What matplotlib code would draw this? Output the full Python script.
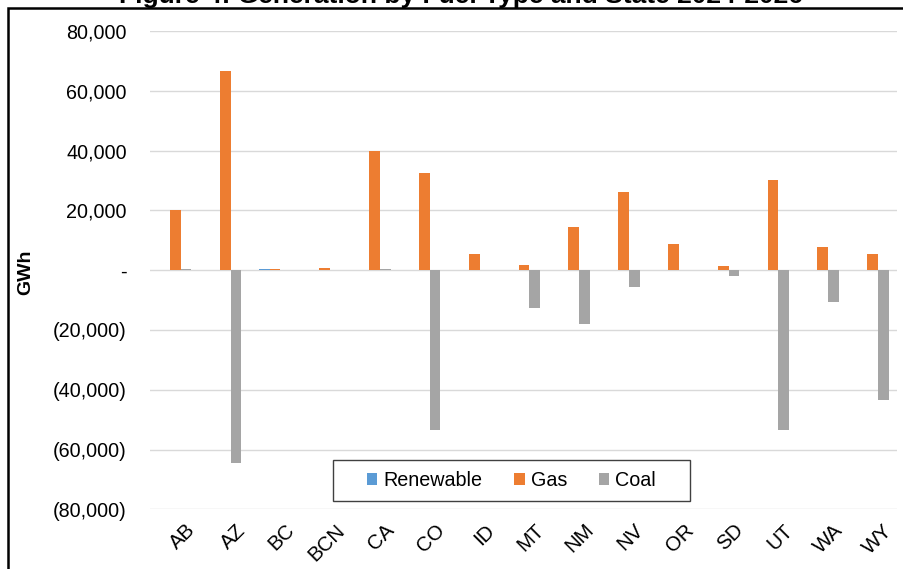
import matplotlib
matplotlib.use("Agg")
import matplotlib.pyplot as plt
import matplotlib.transforms as mtransforms
from matplotlib.patches import Rectangle, Patch
from matplotlib.ticker import FuncFormatter, FixedLocator
import numpy as np

plt.rcParams['font.family'] = ['Liberation Sans', 'DejaVu Sans']

# Change in generation by state and fuel type, 2024-2026 (GWh)
states = ["AB", "AZ", "BC", "BCN", "CA", "CO", "ID", "MT", "NM", "NV",
          "OR", "SD", "UT", "WA", "WY"]
renewable = [0, 0, 500, 0, 0, 0, 0, 0, 0, 0, 0, 0, 0, 0, 0]
gas = [20100, 66500, 500, 800, 39800, 32600, 5500, 1600, 14400, 26100,
       8700, 1300, 30300, 7900, 5500]
coal = [400, -64500, 0, 0, 400, -53600, 0, -12600, -17900, -5800,
        0, -1900, -53600, -10500, -43600]

series_names = ["Renewable", "Gas", "Coal"]
series_colors = ["#5B9BD5", "#ED7D31", "#A5A5A5"]
y_ticks = [-80000, -60000, -40000, -20000, 0, 20000, 40000, 60000, 80000]

W, H, DPI = 904, 569, 100
fig = plt.figure(figsize=(W / DPI, H / DPI), dpi=DPI)

# axes placed in pixel units
ax_l, ax_r, ax_t, ax_b = 150.5, 897.5, 31.0, 509.3
ax = fig.add_axes([ax_l / W, 1 - ax_b / H, (ax_r - ax_l) / W, (ax_b - ax_t) / H])

x = np.arange(len(states))
bw = 0.215
for i, (vals, name, col) in enumerate(zip([renewable, gas, coal], series_names, series_colors)):
    ax.bar(x + (i - 1) * bw, vals, width=bw, color=col, linewidth=0,
           label=name, zorder=3)

ax.set_xlim(-0.5, len(states) - 0.5)
ax.set_ylim(-80000, 80000)
ax.yaxis.set_major_locator(FixedLocator(y_ticks))


def fmt(v, pos):
    if abs(v) < 1e-9:
        return "-"
    s = f"{abs(v):,.0f}"
    return f"({s})" if v < 0 else s


FS = 14.2
ax.yaxis.set_major_formatter(FuncFormatter(fmt))
ax.grid(axis="y", color="#D9D9D9", linewidth=1.0, zorder=0)
ax.set_axisbelow(True)
for sp in ax.spines.values():
    sp.set_visible(False)
ax.tick_params(axis="y", length=0, pad=17, labelsize=FS, labelcolor="#000000")
ax.tick_params(axis="x", length=0, pad=0, labelsize=FS + 0.6)

ax.set_xticks(x)
ax.set_xticklabels(states, rotation=45, ha="right", va="center",
                   rotation_mode="anchor")
offset = mtransforms.ScaledTranslation(17 / DPI, -18 / DPI, fig.dpi_scale_trans)
for lbl in ax.get_xticklabels():
    lbl.set_transform(lbl.get_transform() + offset)

fig.text(26 / W, 1 - 272 / H, "GWh", rotation=90, fontsize=14,
         fontweight="bold", ha="center", va="center")

# legend with its own frame
lx0, lx1, ly0, ly1 = 332.7, 690.0, 460.0, 501.0
fig.patches.append(Rectangle((lx0 / W, 1 - ly1 / H), (lx1 - lx0) / W, (ly1 - ly0) / H,
                             transform=fig.transFigure, facecolor="white",
                             edgecolor="#404040", linewidth=1.0, zorder=5))
handles = [Patch(facecolor=c, edgecolor="none") for c in series_colors]
leg = fig.legend(handles, series_names, loc="center", ncol=3,
                 bbox_to_anchor=((lx0 + lx1) / 2 / W, 1 - (ly0 + ly1) / 2 / H),
                 frameon=False, fontsize=FS, handlelength=0.55, handleheight=0.55,
                 handletextpad=0.3, columnspacing=1.6)
leg.set_zorder(6)

# outer frame
fig.patches.append(Rectangle((7.5 / W, -0.1), 1.2, 1 - 8 / H + 0.1,
                             transform=fig.transFigure, facecolor="none",
                             edgecolor="black", linewidth=1.8, zorder=10))

# title, mostly above the visible area
fig.text(461 / W, 1 - 2.5 / H, "Figure 4: Generation by Fuel Type and State 2024-2026",
         ha="center", va="baseline", fontsize=19, fontweight="bold")

fig.savefig("out.png", dpi=DPI)
